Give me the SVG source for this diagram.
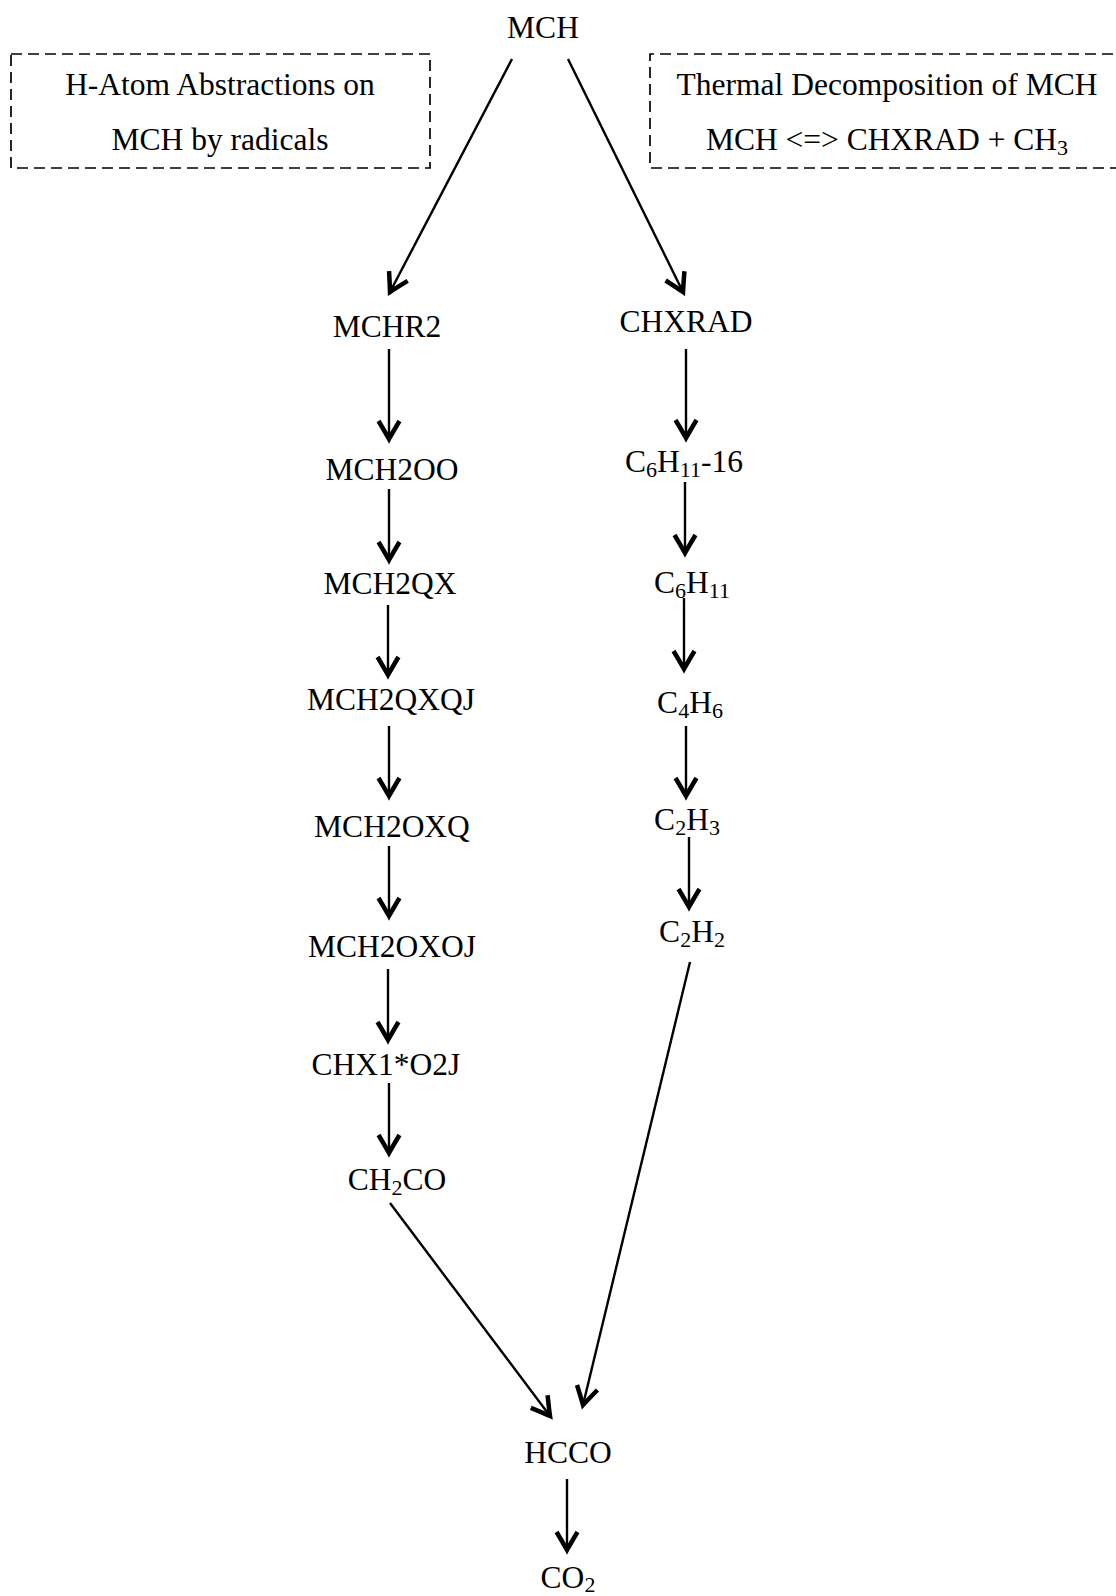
<svg xmlns="http://www.w3.org/2000/svg" width="1116" height="1596" viewBox="0 0 1116 1596">
  <defs>
    <style>
      text { font-family: "Liberation Serif", "Times New Roman", serif; font-size: 31.5px; fill: #000; text-anchor: middle; }
      .sub { font-size: 22px; }
      .box { fill: none; stroke: #000; stroke-width: 1.7; stroke-dasharray: 11 6; }
      .edge { fill: none; stroke: #000; stroke-width: 2.4; marker-end: url(#head); }
    </style>
    <marker id="head" markerUnits="userSpaceOnUse" orient="auto" refX="0" refY="0" markerWidth="30" markerHeight="30" viewBox="-15 -10 20 20" overflow="visible">
      <path d="M-12,-7 Q-4.5,-2.5 0,0 Q-4.5,2.5 -12,7" fill="none" stroke="#000" stroke-width="3" stroke-linejoin="miter"/>
    </marker>
  </defs>

  <rect width="1116" height="1596" fill="#fff"/>

  <!-- annotation boxes -->
  <g id="note-abstraction">
    <rect class="box" x="11" y="54" width="419" height="114"/>
    <text x="220" y="95">H-Atom Abstractions on</text>
    <text x="220" y="150">MCH by radicals</text>
  </g>
  <g id="note-decomposition">
    <path class="box" d="M1130,54 H650 V168 H1130"/>
    <text x="887" y="95">Thermal Decomposition of MCH</text>
    <text x="887" y="150">MCH &lt;=&gt; CHXRAD + CH<tspan class="sub" dy="5">3</tspan></text>
  </g>

  <!-- connectors -->
  <g id="connectors">
    <line class="edge" x1="512" y1="59" x2="390" y2="292"/>
    <line class="edge" x1="568" y1="59" x2="683" y2="292"/>
    <line class="edge" x1="389" y1="349" x2="389" y2="439"/>
    <line class="edge" x1="389" y1="489" x2="389" y2="560"/>
    <line class="edge" x1="388" y1="605" x2="388" y2="675"/>
    <line class="edge" x1="389" y1="726" x2="389" y2="796"/>
    <line class="edge" x1="389" y1="846" x2="389" y2="916"/>
    <line class="edge" x1="388" y1="969" x2="388" y2="1040"/>
    <line class="edge" x1="389" y1="1083" x2="389" y2="1153"/>
    <line class="edge" x1="390" y1="1203" x2="550" y2="1416"/>
    <line class="edge" x1="686" y1="349" x2="686" y2="438"/>
    <line class="edge" x1="685" y1="482" x2="685" y2="553"/>
    <line class="edge" x1="684" y1="598" x2="684" y2="669"/>
    <line class="edge" x1="686" y1="726" x2="686" y2="796"/>
    <line class="edge" x1="689" y1="837" x2="689" y2="907"/>
    <line class="edge" x1="690" y1="962" x2="583" y2="1405"/>
    <line class="edge" x1="567" y1="1479" x2="567" y2="1550"/>
  </g>

  <!-- species -->
  <g id="MCH"><text x="543" y="38">MCH</text></g>
  <g id="MCHR2"><text x="387" y="337">MCHR2</text></g>
  <g id="MCH2OO"><text x="392" y="480">MCH2OO</text></g>
  <g id="MCH2QX"><text x="390" y="594">MCH2QX</text></g>
  <g id="MCH2QXQJ"><text x="391" y="710">MCH2QXQJ</text></g>
  <g id="MCH2OXQ"><text x="392" y="837">MCH2OXQ</text></g>
  <g id="MCH2OXOJ"><text x="392" y="957">MCH2OXOJ</text></g>
  <g id="CHX1O2J"><text x="386" y="1075">CHX1*O2J</text></g>
  <g id="CH2CO"><text x="397" y="1190">CH<tspan class="sub" dy="5">2</tspan><tspan dy="-5">CO</tspan></text></g>
  <g id="CHXRAD"><text x="686" y="332">CHXRAD</text></g>
  <g id="C6H11-16"><text x="684" y="472">C<tspan class="sub" dy="5">6</tspan><tspan dy="-5">H</tspan><tspan class="sub" dy="5">11</tspan><tspan dy="-5">-16</tspan></text></g>
  <g id="C6H11"><text x="692" y="593">C<tspan class="sub" dy="5">6</tspan><tspan dy="-5">H</tspan><tspan class="sub" dy="5">11</tspan></text></g>
  <g id="C4H6"><text x="690" y="713">C<tspan class="sub" dy="5">4</tspan><tspan dy="-5">H</tspan><tspan class="sub" dy="5">6</tspan></text></g>
  <g id="C2H3"><text x="687" y="830">C<tspan class="sub" dy="5">2</tspan><tspan dy="-5">H</tspan><tspan class="sub" dy="5">3</tspan></text></g>
  <g id="C2H2"><text x="692" y="942">C<tspan class="sub" dy="5">2</tspan><tspan dy="-5">H</tspan><tspan class="sub" dy="5">2</tspan></text></g>
  <g id="HCCO"><text x="568" y="1463">HCCO</text></g>
  <g id="CO2"><text x="568" y="1588">CO<tspan class="sub" dy="4">2</tspan></text></g>
</svg>
